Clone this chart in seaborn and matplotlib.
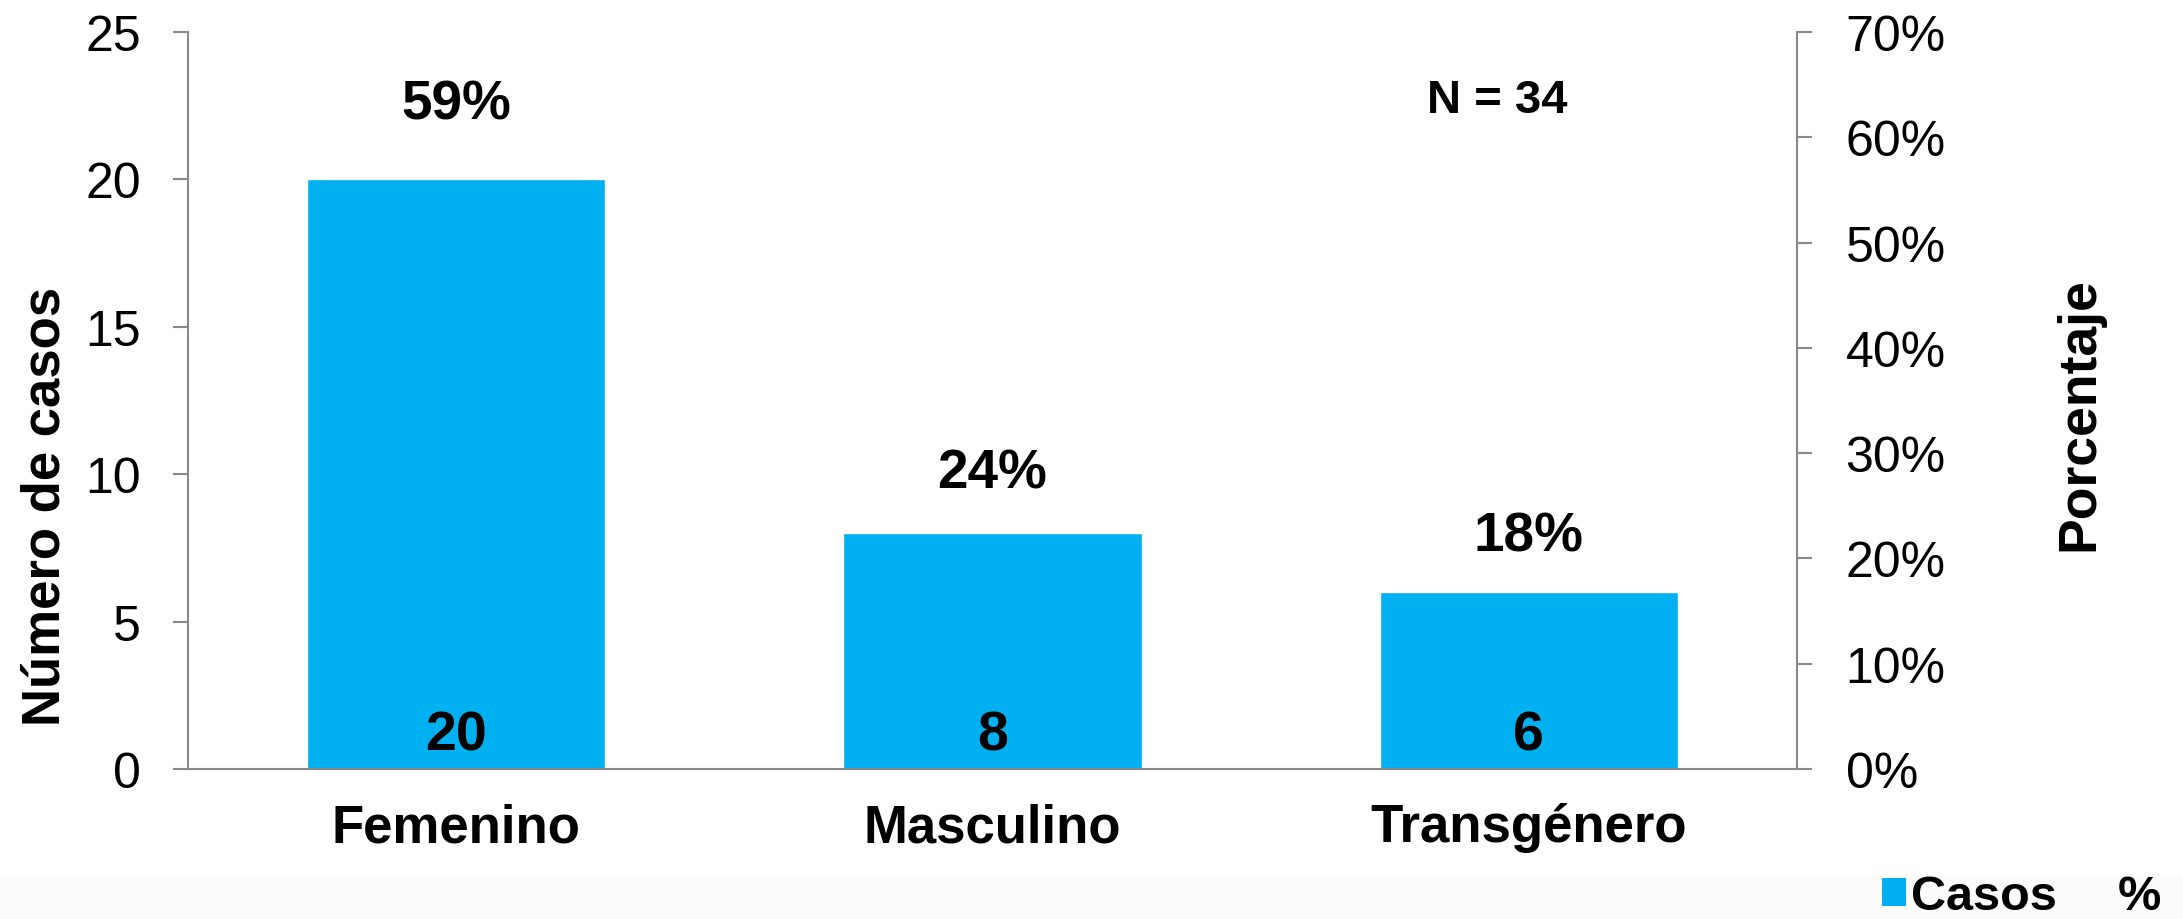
import matplotlib
matplotlib.use("Agg")
import matplotlib.pyplot as plt
import seaborn as sns
import pandas as pd
from matplotlib.patches import Patch, Rectangle
from matplotlib.lines import Line2D
from matplotlib.ticker import PercentFormatter

categories = ["Femenino", "Masculino", "Transgénero"]
casos = [20, 8, 6]
porcentaje = [0.59, 0.24, 0.18]
pct_labels = ["59%", "24%", "18%"]
total_label = "N = 34"

BLUE = "#00B0F0"
GREY = "#898989"

sns.set_style("white")
plt.rcParams["font.family"] = ["Liberation Sans", "DejaVu Sans"]
plt.rcParams["text.color"] = "black"
plt.rcParams["axes.labelcolor"] = "black"
plt.rcParams["xtick.color"] = "black"
plt.rcParams["ytick.color"] = "black"

df = pd.DataFrame({"categoria": categories, "casos": casos, "pct": porcentaje})

fig = plt.figure(figsize=(21.83, 9.2), dpi=100)
fig.patches.append(Rectangle((0, 0), 1, 45 / 920, transform=fig.transFigure,
                             facecolor="#fcfcfc", edgecolor="none", zorder=-1))
ax = fig.add_axes([188 / 2183, 1 - 770 / 920, (1797 - 188) / 2183, (770 - 33) / 920])

sns.barplot(data=df, x="categoria", y="casos", color=BLUE, saturation=1,
            width=0.556, ax=ax)
ax.set_xlim(-0.5, 2.5)
ax.set_ylim(0, 25)
ax.set_yticks(range(0, 26, 5))
ax.set_xlabel("")
ax.set_ylabel("Número de casos", fontsize=38, fontweight="bold", va="center")
ax.yaxis.set_label_coords(-0.0883, 0.358)

# counts inside the bars, near the base
for i, v in enumerate(casos):
    ax.annotate(str(v), (i, 0), xytext=(0, 14), textcoords="offset points",
                ha="center", va="baseline", fontsize=40, fontweight="bold")

# secondary axis: percentages (series itself is not drawn, only its labels)
ax2 = ax.twinx()
ax2.set_ylim(0, 0.7)
ax2.set_yticks([i / 10 for i in range(8)])
ax2.yaxis.set_major_formatter(PercentFormatter(1.0, decimals=0))
ax2.set_ylabel("Porcentaje", fontsize=38.5, fontweight="bold", va="center",
               rotation=90)
ax2.yaxis.set_label_coords(1.1754, 0.483)
for i, (p, lab) in enumerate(zip(porcentaje, pct_labels)):
    ax2.annotate(lab, (i, p), xytext=(0, 21), textcoords="offset points",
                 ha="center", va="baseline", fontsize=39.5, fontweight="bold")

ax.text(0.8134, 0.8915, total_label, transform=ax.transAxes, ha="center",
        va="baseline", fontsize=34, fontweight="bold")

for a in (ax, ax2):
    for s in a.spines.values():
        s.set_color(GREY)
        s.set_linewidth(1.5)
    a.spines["top"].set_visible(False)
ax.spines["right"].set_visible(False)
ax2.spines["left"].set_visible(False)
ax2.spines["bottom"].set_visible(False)

ax.tick_params(axis="y", direction="out", length=11, width=1.5, color=GREY,
               labelcolor="black", labelsize=36, pad=23, left=True)
ax.tick_params(axis="x", length=0, pad=24, labelcolor="black")
for t in ax.get_xticklabels():
    t.set_fontsize(38)
    t.set_fontweight("bold")
ax2.tick_params(axis="y", direction="out", length=11, width=1.5, color=GREY,
                labelcolor="black", labelsize=36, pad=24, right=True)

handles = [Patch(facecolor=BLUE, edgecolor="none", label="Casos"),
           Line2D([], [], color="none", label="%")]
leg = fig.legend(handles=handles, loc="center left",
                 bbox_to_anchor=(1882 / 2183, 1 - 898 / 920), ncol=2,
                 frameon=False, borderpad=0, borderaxespad=0,
                 handlelength=0.5, handleheight=0.5, handletextpad=0.1,
                 columnspacing=0.64, prop={"size": 35, "weight": "bold"})

fig.savefig("out.png", dpi=100)
